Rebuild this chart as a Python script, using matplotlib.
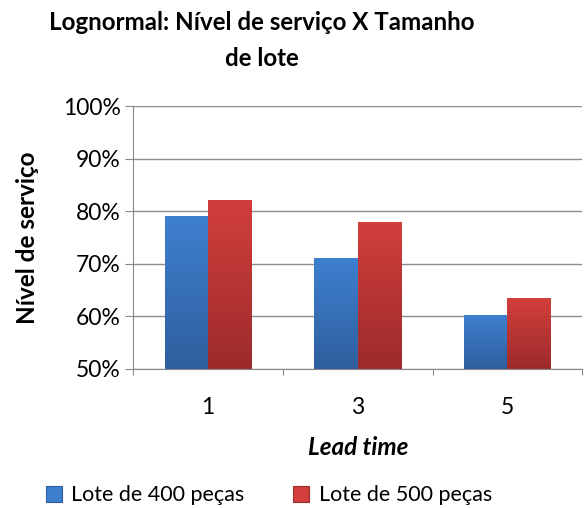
import numpy as np
import matplotlib
matplotlib.use('Agg')
import matplotlib.pyplot as plt
from matplotlib.colors import LinearSegmentedColormap
from matplotlib.ticker import FixedLocator, FuncFormatter

categories = ['1', '3', '5']
lote_400 = [79.0, 71.1, 60.3]
lote_500 = [82.2, 78.0, 63.5]
series_names = ['Lote de 400 peças', 'Lote de 500 peças']

plt.rcParams['font.family'] = ['Lato', 'DejaVu Sans']

fig = plt.figure(figsize=(5.84, 5.08), dpi=100)
ax = fig.add_axes([0.228, 0.274, 0.769, 0.517])

x = np.arange(len(categories))
width = 0.29
colors = [('#2f5e9e', '#3e80cf'), ('#9c2b2b', '#d23f3c')]
grad = np.linspace(0, 1, 256).reshape(-1, 1)

handles = []
for i, (vals, name) in enumerate(zip([lote_400, lote_500], series_names)):
    cmap = LinearSegmentedColormap.from_list('g%d' % i, colors[i])
    bars = ax.bar(x + (i - 0.5) * width, vals, width, bottom=0, color=colors[i][1],
                  label=name, zorder=2)
    for b in bars:
        b.set_facecolor('none')
        b.set_edgecolor('none')
        x0, y0 = b.get_x(), 50
        x1, y1 = x0 + b.get_width(), b.get_height()
        im = ax.imshow(grad, extent=[x0, x1, y0, y1], origin='lower', cmap=cmap,
                       aspect='auto', zorder=2)
        im.set_clip_path(b)
    handles.append(plt.Rectangle((0, 0), 1, 1, facecolor=colors[i][1],
                                 edgecolor=colors[i][0], linewidth=0.8))

ax.set_xlim(-0.5, 2.5)
ax.set_ylim(50, 100)
ax.set_yticks(range(50, 101, 10))
ax.yaxis.set_major_formatter(FuncFormatter(lambda v, p: '%d%%' % v))
ax.xaxis.set_major_locator(FixedLocator([-0.5, 0.5, 1.5, 2.5]))
ax.xaxis.set_major_formatter(FuncFormatter(lambda v, p: ''))
ax.xaxis.set_minor_locator(FixedLocator(x))
ax.set_xticklabels(categories, minor=True)
ax.tick_params(axis='x', which='minor', length=0, labelsize=16.5, pad=20)
ax.tick_params(axis='x', which='major', length=4.5, color='#888888')
ax.tick_params(axis='y', length=6, color='#888888', labelsize=16.5, pad=3)

ax.grid(axis='y', color='#8c8c8c', linewidth=1, zorder=0)
ax.set_axisbelow(True)
for s in ['top', 'right']:
    ax.spines[s].set_visible(False)
for s in ['left', 'bottom']:
    ax.spines[s].set_color('#888888')

ax.set_ylabel('Nível de serviço', fontsize=17.5, fontweight='bold', labelpad=17)
ax.set_xlabel('Lead time', fontsize=17.5, fontweight='bold', style='italic', labelpad=13)
fig.text(0.449, 0.863, 'Lognormal: Nível de serviço X Tamanho\nde lote', fontsize=17.4,
         fontweight='bold', ha='center', va='bottom', linespacing=1.65)

fig.legend(handles, series_names, loc='lower left', bbox_to_anchor=(0.045, -0.033),
           ncol=2, frameon=False, fontsize=15.5, handlelength=0.75, handleheight=0.75,
           columnspacing=2.25, handletextpad=0.45)

fig.savefig('out.png', dpi=100)
